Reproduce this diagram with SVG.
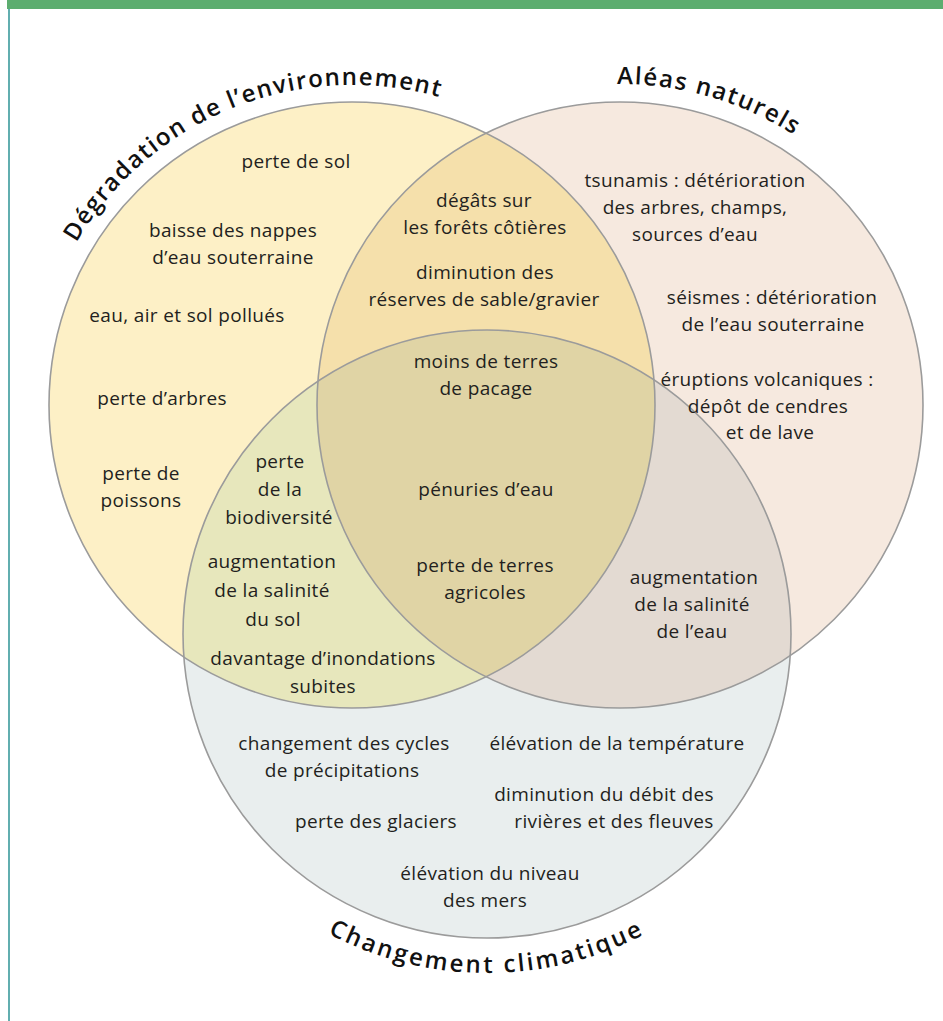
<svg xmlns="http://www.w3.org/2000/svg" width="943" height="1021" viewBox="0 0 943 1021">
<style>
.t{font-family:"Open Sans","Noto Sans","Liberation Sans",sans-serif;font-size:19px;letter-spacing:0.35px;fill:#231f20;text-anchor:middle}
.h{font-family:"Open Sans","Noto Sans","Liberation Sans",sans-serif;font-size:24px;font-weight:600;fill:#111}
.ring{fill:none;stroke:#9b9b9b;stroke-width:1.6}
</style>
<defs>
<clipPath id="cL"><circle cx="352" cy="405" r="303"/></clipPath>
<clipPath id="cR"><circle cx="620" cy="405" r="303"/></clipPath>
<path id="pL" d="M 62 269.8 A 320 320 0 0 1 512 127.9"/>
<path id="pR" d="M 564.3 88.9 A 321 321 0 0 1 847 178"/>
<path id="pB" d="M 292.6 911.7 A 339 339 0 0 0 681.4 911.7"/>
</defs>
<rect width="943" height="1021" fill="#fff"/>
<rect x="7" y="0" width="936" height="9" fill="#5cad6f"/>
<line x1="9" y1="9" x2="9" y2="1021" stroke="#3a9a9c" stroke-width="1.6"/>
<g id="venn">
<circle cx="352" cy="405" r="303" fill="#fdf0c6"/>
<circle cx="620" cy="405" r="303" fill="#f6e9df"/>
<circle cx="487" cy="634" r="304" fill="#e9eeee"/>
<circle cx="620" cy="405" r="303" fill="#f5e0ab" clip-path="url(#cL)"/>
<circle cx="487" cy="634" r="304" fill="#e7e7bc" clip-path="url(#cL)"/>
<circle cx="487" cy="634" r="304" fill="#e3dad2" clip-path="url(#cR)"/>
<g clip-path="url(#cR)"><circle cx="487" cy="634" r="304" fill="#e0d4a5" clip-path="url(#cL)"/></g>
<circle class="ring" cx="352" cy="405" r="303"/>
<circle class="ring" cx="620" cy="405" r="303"/>
<circle class="ring" cx="487" cy="634" r="304"/>
</g>
<g id="title-degradation"><text class="h"><textPath href="#pL" startOffset="30.7" textLength="420" lengthAdjust="spacing">Dégradation de l’environnement</textPath></text></g>
<g id="title-aleas"><text class="h"><textPath href="#pR" startOffset="53" textLength="186" lengthAdjust="spacing">Aléas naturels</textPath></text></g>
<g id="title-climat"><text class="h"><textPath href="#pB" startOffset="41.4" textLength="328" lengthAdjust="spacing">Changement climatique</textPath></text></g>
<g id="degradation">
<text class="t" x="296" y="168">perte de sol</text>
<text class="t" x="233" y="237">baisse des nappes</text>
<text class="t" x="233" y="263.5">d’eau souterraine</text>
<text class="t" x="187" y="322">eau, air et sol pollués</text>
<text class="t" x="162" y="405">perte d’arbres</text>
<text class="t" x="141" y="480">perte de</text>
<text class="t" x="141" y="506.5">poissons</text>
</g>
<g id="degradation-aleas">
<text class="t" x="484" y="207">dégâts sur</text>
<text class="t" x="485" y="233.5">les forêts côtières</text>
<text class="t" x="485" y="279">diminution des</text>
<text class="t" x="484" y="305.5">réserves de sable/gravier</text>
</g>
<g id="aleas">
<text class="t" x="695" y="187">tsunamis : détérioration</text>
<text class="t" x="695" y="214">des arbres, champs,</text>
<text class="t" x="695" y="241">sources d’eau</text>
<text class="t" x="772" y="304">séismes : détérioration</text>
<text class="t" x="773" y="330.5">de l’eau souterraine</text>
<text class="t" x="767" y="386">éruptions volcaniques :</text>
<text class="t" x="768" y="412.5">dépôt de cendres</text>
<text class="t" x="770" y="439">et de lave</text>
</g>
<g id="centre">
<text class="t" x="486" y="368">moins de terres</text>
<text class="t" x="486" y="394.5">de pacage</text>
<text class="t" x="486" y="496">pénuries d’eau</text>
<text class="t" x="485" y="572">perte de terres</text>
<text class="t" x="485" y="598.5">agricoles</text>
</g>
<g id="degradation-climat">
<text class="t" x="280" y="468">perte</text>
<text class="t" x="280" y="496">de la</text>
<text class="t" x="279" y="524">biodiversité</text>
<text class="t" x="272" y="568">augmentation</text>
<text class="t" x="272" y="597">de la salinité</text>
<text class="t" x="273" y="626">du sol</text>
<text class="t" x="323" y="665">davantage d’inondations</text>
<text class="t" x="323" y="693">subites</text>
</g>
<g id="aleas-climat">
<text class="t" x="694" y="584">augmentation</text>
<text class="t" x="692" y="611">de la salinité</text>
<text class="t" x="692" y="638">de l’eau</text>
</g>
<g id="climat">
<text class="t" x="344" y="750">changement des cycles</text>
<text class="t" x="342" y="777">de précipitations</text>
<text class="t" x="617" y="750">élévation de la température</text>
<text class="t" x="604" y="801">diminution du débit des</text>
<text class="t" x="614" y="828">rivières et des fleuves</text>
<text class="t" x="376" y="828">perte des glaciers</text>
<text class="t" x="490" y="880">élévation du niveau</text>
<text class="t" x="485" y="907">des mers</text>
</g>
</svg>
